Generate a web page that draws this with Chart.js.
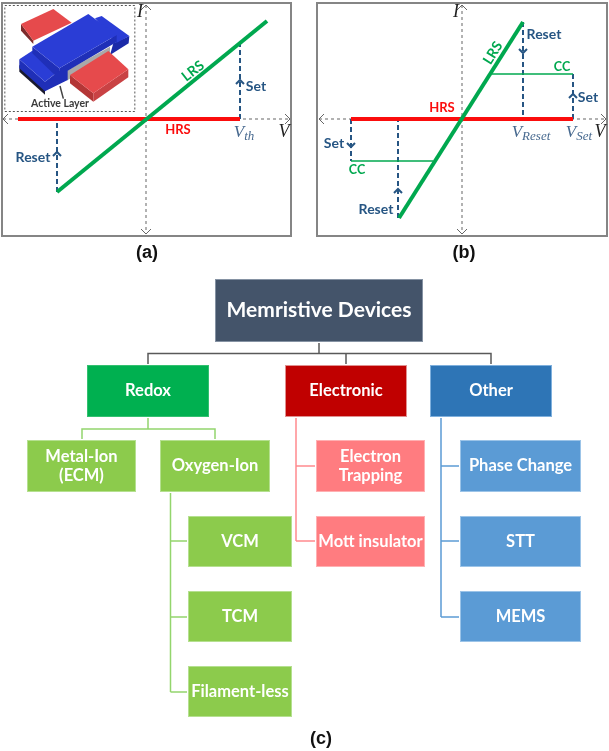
<!DOCTYPE html>
<html>
<head>
<meta charset="utf-8">
<script src="https://cdn.jsdelivr.net/npm/chart.js"></script>
<style>
    html, body { margin: 0; padding: 0; background: #ffffff; }
    #page { position: relative; width: 609px; height: 751px; overflow: hidden; }
    canvas { position: absolute; display: block; filter: blur(0.35px); }
</style>
</head>
<body>
<div id="page">
    <canvas id="panelA" width="304" height="265" style="left:0;top:0"></canvas>
    <canvas id="device" width="140" height="120" style="left:0;top:0"></canvas>
    <canvas id="panelB" width="304" height="265" style="left:305px;top:0"></canvas>
    <canvas id="tree" width="609" height="486" style="left:0;top:265px"></canvas>
</div>
<script>
// Panel (a) curves, V and I in arbitrary units
const aLrsV = [-8.9, 12.1];
const aLrsI = [-7.3, 9.8];
const aHrsV = [-12.8, 9.4];
const aHrsI = [0, 0];
const aSetV = [9.4, 9.4];
const aSetI = [0, 7.6];
const aResetV = [-8.9, -8.9];
const aResetI = [-7.3, 0];

// Panel (b) curves
const bLrsV = [-6.3, 6.1];
const bLrsI = [-9.9, 9.7];
const bHrsV = [-11.1, 11.1];
const bHrsI = [0, 0];
const bCcUpV = [3.0, 11.1];
const bCcUpI = [4.5, 4.5];
const bCcDownV = [-11.1, -2.9];
const bCcDownI = [-4.2, -4.2];
const bSetUpV = [11.1, 11.1];
const bSetUpI = [0, 4.5];
const bSetDownV = [-11.1, -11.1];
const bSetDownI = [0, -4.2];
const bResetUpV = [6.1, 6.1];
const bResetUpI = [9.7, 0];
const bResetDownV = [-6.4, -6.4];
const bResetDownI = [-9.9, 0];

// Arrow heads on the dashed transitions: V, I, direction
const aArrowV = [9.4, -8.9];
const aArrowI = [3.9, -3.3];
const aArrowDir = [1, 1];
const bArrowV = [6.1, 11.1, -11.1, -6.4];
const bArrowI = [6.6, 2.5, -2.8, -7.0];
const bArrowDir = [-1, 1, -1, 1];

// Tree nodes
const nodeNames = ['Memristive Devices', 'Redox', 'Electronic', 'Other', 'Metal-Ion\n(ECM)', 'Oxygen-Ion',
    'Electron\nTrapping', 'Mott insulator', 'Phase Change', 'STT', 'MEMS', 'VCM', 'TCM', 'Filament-less'];
const nodeLeft = [215, 87, 285, 430, 27, 160, 316, 316, 460, 460, 460, 188, 188, 188];
const nodeRight = [423, 209, 407, 552, 136, 270, 425, 425, 581, 581, 581, 292, 292, 292];
const nodeTop = [279, 365, 365, 365, 440, 440, 440, 516, 440, 516, 591, 516, 591, 666];
const nodeBottom = [342, 417, 417, 417, 492, 492, 492, 567, 492, 567, 642, 567, 642, 717];
const nodeKinds = ['root', 'redox', 'electronic', 'other', 'redoxSub', 'redoxSub', 'electronicSub', 'electronicSub',
    'otherSub', 'otherSub', 'otherSub', 'redoxSub', 'redoxSub', 'redoxSub'];

// Tree connectors, one array pair per polyline
const rootLinkX = [[319, 319], [148, 148, 491, 491], [346, 346]];
const rootLinkY = [[343, 353.5], [364, 353.5, 353.5, 364], [353.5, 364]];
const redoxLinkX = [[148, 148], [82, 82, 215, 215], [170.5, 170.5], [170.5, 187], [170.5, 187], [170.5, 187]];
const redoxLinkY = [[418, 429], [439, 429, 429, 439], [493, 692], [541, 541], [617, 617], [692, 692]];
const electronicLinkX = [[296, 296], [296, 315], [296, 315]];
const electronicLinkY = [[418, 541], [466, 466], [541, 541]];
const otherLinkX = [[441, 441], [441, 459], [441, 459], [441, 459]];
const otherLinkY = [[418, 617], [466, 466], [541, 541], [617, 617]];

const kindFill = {
    root: '#44546a', redox: '#00b050', electronic: '#c00000', other: '#2e75b6',
    redoxSub: '#8ccb4c', electronicSub: '#ff7c80', otherSub: '#5b9bd5'
};
const kindEdge = {
    root: '#8592a3', redox: '#33c070', electronic: '#e09090', other: '#7fb0dd',
    redoxSub: '#b5e090', electronicSub: '#ffb0b2', otherSub: '#9cc4e8'
};

const GREEN = '#00a84f';
const RED = '#fb0d0d';
const BLUE = '#265583';
const MATH_BLUE = '#47698f';
const LABEL = 'Lato, "Noto Sans", sans-serif';
const MATH = '"Liberation Serif", serif';

function line(xs, ys, color, width, dash) {
    return {
        data: xs.map((x, i) => ({ x: x, y: ys[i] })),
        showLine: true,
        pointRadius: 0,
        borderColor: color,
        borderWidth: width,
        borderDash: dash || [],
        borderCapStyle: 'butt'
    };
}

function chevron(ctx, x, y, dir, size, color, width) {
    ctx.save();
    ctx.strokeStyle = color;
    ctx.lineWidth = width;
    ctx.beginPath();
    ctx.moveTo(x + dir[0] * size - dir[1] * size, y + dir[1] * size + dir[0] * size);
    ctx.lineTo(x, y);
    ctx.lineTo(x + dir[0] * size + dir[1] * size, y + dir[1] * size - dir[0] * size);
    ctx.stroke();
    ctx.restore();
}

function label(chart, text, x, y, color, font, rotation) {
    const ctx = chart.ctx;
    ctx.save();
    ctx.translate(chart.scales.x.getPixelForValue(x), chart.scales.y.getPixelForValue(y));
    ctx.rotate((rotation || 0) * Math.PI / 180);
    ctx.textAlign = 'center';
    ctx.textBaseline = 'middle';
    ctx.fillStyle = color;
    ctx.font = font;
    ctx.fillText(text, 0, 0);
    ctx.restore();
}

// V with an italic subscript, centred on x
function subscripted(chart, sub, x, y) {
    const ctx = chart.ctx;
    ctx.save();
    ctx.fillStyle = MATH_BLUE;
    ctx.textBaseline = 'alphabetic';
    ctx.font = 'italic 17px ' + MATH;
    const mainWidth = ctx.measureText('V').width;
    ctx.font = 'italic 13px ' + MATH;
    const subWidth = ctx.measureText(sub).width;
    const left = chart.scales.x.getPixelForValue(x) - (mainWidth + subWidth) / 2;
    const base = chart.scales.y.getPixelForValue(y);
    ctx.font = 'italic 17px ' + MATH;
    ctx.fillText('V', left, base + 4);
    ctx.font = 'italic 13px ' + MATH;
    ctx.fillText(sub, left + mainWidth, base + 7);
    ctx.restore();
}

function baseOptions(xMin, xMax, yMin, yMax, padding, reverse) {
    return {
        responsive: false,
        animation: false,
        devicePixelRatio: 1,
        layout: { padding: padding },
        plugins: { legend: { display: false }, tooltip: { enabled: false } },
        scales: {
            x: { type: 'linear', min: xMin, max: xMax, display: false },
            y: { type: 'linear', min: yMin, max: yMax, display: false, reverse: !!reverse }
        }
    };
}

// Frame, axes ends and arrows shared by (a) and (b)
function ivPlugin(arrowV, arrowI, arrowDir, drawTexts) {
    return {
        id: 'ivPlugin',
        afterDatasetsDraw(chart) {
            const ctx = chart.ctx, sx = chart.scales.x, sy = chart.scales.y, area = chart.chartArea;
            ctx.save();
            ctx.strokeStyle = '#858585';
            ctx.lineWidth = 2;
            ctx.strokeRect(area.left, area.top, area.right - area.left, area.bottom - area.top);
            ctx.restore();
            const ox = sx.getPixelForValue(0), oy = sy.getPixelForValue(0);
            chevron(ctx, sx.getPixelForValue(-14.3), oy, [1, 0], 5, '#666666', 1);
            chevron(ctx, sx.getPixelForValue(14.4), oy, [-1, 0], 5, '#666666', 1);
            chevron(ctx, ox, sy.getPixelForValue(11.4), [0, 1], 5, '#666666', 1);
            chevron(ctx, ox, sy.getPixelForValue(-11.5), [0, -1], 5, '#666666', 1);
            arrowV.forEach((v, i) => {
                chevron(ctx, sx.getPixelForValue(v), sy.getPixelForValue(arrowI[i]), [0, arrowDir[i]], 4, BLUE, 2);
            });
            drawTexts(chart);
        }
    };
}

new Chart(document.getElementById('panelA'), {
    type: 'scatter',
    data: {
        datasets: [
            line(aLrsV, aLrsI, GREEN, 4),
            line(aHrsV, aHrsI, RED, 4),
            line(aSetV, aSetI, BLUE, 2, [5, 3]),
            line(aResetV, aResetI, BLUE, 2, [5, 3]),
            line([-14.3, 14.4], [0, 0], '#666666', 1, [3, 3]),
            line([0, 0], [11.4, -11.5], '#666666', 1, [3, 3])
        ]
    },
    options: baseOptions(-14.4, 14.5, -11.7, 11.6, { left: 2, top: 3, right: 13, bottom: 29 }),
    plugins: [ivPlugin(aArrowV, aArrowI, aArrowDir, chart => {
        const bold = 'bold 14px ' + LABEL;
        label(chart, 'LRS', 4.7, 4.8, GREEN, bold, -38);
        label(chart, 'HRS', 3.2, -1.1, RED, 'bold 13px ' + LABEL);
        label(chart, 'Set', 11.0, 3.3, BLUE, bold);
        label(chart, 'Reset', -11.3, -3.8, BLUE, bold);
        subscripted(chart, 'th', 9.8, -1.4);
        label(chart, 'V', 13.8, -1.3, '#222222', 'italic 18px ' + MATH);
        label(chart, 'I', -0.6, 10.7, '#222222', 'italic 18px ' + MATH);
        label(chart, '(a)', 0.1, -13.4, '#111111', 'bold 18px "Liberation Sans", sans-serif');
    })]
});

// Device sketch inside (a), coordinates are on a 420 x 360 grid
const devicePolys = [
    { fill: '#7d2b2b', pts: [[63, 72], [100, 122], [100, 132], [63, 92]] },
    { fill: '#e64a4c', pts: [[63, 72], [160, 27], [215, 68], [100, 122]] },
    { fill: '#1b2aa8', pts: [[340, 130], [388, 108], [386, 130], [330, 165]] },
    { fill: '#2a3dd6', pts: [[285, 55], [305, 48], [388, 108], [350, 128]] },
    { fill: '#a9a9a9', pts: [[200, 212], [330, 140], [330, 160], [200, 242]] },
    { fill: '#b43636', pts: [[210, 225], [280, 280], [280, 305], [210, 250]] },
    { fill: '#c94244', pts: [[280, 280], [385, 208], [385, 232], [280, 305]] },
    { fill: '#e64a4c', pts: [[210, 225], [325, 153], [385, 208], [280, 280]] },
    { fill: '#1a1a2e', pts: [[58, 195], [135, 262], [135, 284], [58, 215]] },
    { fill: '#1f2fb8', pts: [[58, 178], [135, 245], [135, 274], [58, 205]] },
    { fill: '#2a3dd6', pts: [[58, 178], [97, 152], [180, 210], [135, 245]] },
    { fill: '#1f2fb8', pts: [[97, 140], [178, 205], [180, 240], [97, 160]] },
    { fill: '#1f2fb8', pts: [[178, 205], [350, 105], [350, 126], [203, 212], [203, 240], [135, 274], [135, 245], [178, 212]] },
    { fill: '#2a3dd6', pts: [[97, 140], [265, 42], [350, 105], [178, 205]] }
];

new Chart(document.getElementById('device'), {
    type: 'scatter',
    data: { datasets: [line([180, 190], [258, 296], '#444444', 1.5)] },
    options: baseOptions(0, 420, 0, 360, 0, true),
    plugins: [{
        id: 'devicePlugin',
        beforeDatasetsDraw(chart) {
            const ctx = chart.ctx, sx = chart.scales.x, sy = chart.scales.y;
            ctx.save();
            ctx.strokeStyle = '#555555';
            ctx.lineWidth = 1;
            ctx.setLineDash([2, 2]);
            ctx.strokeRect(sx.getPixelForValue(13) + 0.5, sy.getPixelForValue(15) + 0.5,
                sx.getPixelForValue(403) - sx.getPixelForValue(13), sy.getPixelForValue(333) - sy.getPixelForValue(15));
            ctx.restore();
            devicePolys.forEach(poly => {
                ctx.beginPath();
                poly.pts.forEach((p, i) => {
                    const px = sx.getPixelForValue(p[0]), py = sy.getPixelForValue(p[1]);
                    if (i === 0) ctx.moveTo(px, py); else ctx.lineTo(px, py);
                });
                ctx.closePath();
                ctx.fillStyle = poly.fill;
                ctx.fill();
            });
        },
        afterDatasetsDraw(chart) {
            label(chart, 'Active Layer', 180, 312, '#3a3a3a', 'bold 10.5px ' + LABEL);
        }
    }]
});

new Chart(document.getElementById('panelB'), {
    type: 'scatter',
    data: {
        datasets: [
            line(bLrsV, bLrsI, GREEN, 4),
            line(bHrsV, bHrsI, RED, 4),
            line(bCcUpV, bCcUpI, GREEN, 1.5),
            line(bCcDownV, bCcDownI, GREEN, 1.5),
            line(bSetUpV, bSetUpI, BLUE, 2, [5, 3]),
            line(bSetDownV, bSetDownI, BLUE, 2, [5, 3]),
            line(bResetUpV, bResetUpI, BLUE, 2, [5, 3]),
            line(bResetDownV, bResetDownI, BLUE, 2, [5, 3]),
            line([-14.3, 14.4], [0, 0], '#666666', 1, [3, 3]),
            line([0, 0], [11.4, -11.5], '#666666', 1, [3, 3])
        ]
    },
    options: baseOptions(-14.5, 14.5, -11.7, 11.6, { left: 12, top: 3, right: 2, bottom: 29 }),
    plugins: [ivPlugin(bArrowV, bArrowI, bArrowDir, chart => {
        const bold = 'bold 14px ' + LABEL;
        const small = 'bold 12.5px ' + LABEL;
        label(chart, 'HRS', -2.0, 1.1, RED, 'bold 13px ' + LABEL);
        label(chart, 'LRS', 3.1, 6.6, GREEN, bold, -58);
        label(chart, 'Reset', 8.2, 8.5, BLUE, bold);
        label(chart, 'CC', 10.0, 5.2, GREEN, small);
        label(chart, 'Set', 12.6, 2.2, BLUE, bold);
        label(chart, 'Set', -12.8, -2.4, BLUE, bold);
        label(chart, 'CC', -10.5, -5.1, GREEN, small);
        label(chart, 'Reset', -8.6, -9.0, BLUE, bold);
        subscripted(chart, 'Reset', 6.9, -1.4);
        subscripted(chart, 'Set', 11.7, -1.4);
        label(chart, 'V', 13.8, -1.3, '#222222', 'italic 18px ' + MATH);
        label(chart, 'I', -0.6, 10.7, '#222222', 'italic 18px ' + MATH);
        label(chart, '(b)', 0.2, -13.4, '#111111', 'bold 18px "Liberation Sans", sans-serif');
    })]
});

function links(xs, ys, color, width) {
    return xs.map((x, i) => line(x, ys[i], color, width));
}

new Chart(document.getElementById('tree'), {
    type: 'scatter',
    data: {
        datasets: [
            ...links(rootLinkX, rootLinkY, '#595959', 1.5),
            ...links(redoxLinkX, redoxLinkY, '#93d56d', 1.5),
            ...links(electronicLinkX, electronicLinkY, '#ff8a8e', 1.5),
            ...links(otherLinkX, otherLinkY, '#5b9bd5', 1.5)
        ]
    },
    options: baseOptions(0, 609, 265, 751, 0, true),
    plugins: [{
        id: 'treeNodes',
        afterDatasetsDraw(chart) {
            const ctx = chart.ctx, sx = chart.scales.x, sy = chart.scales.y;
            nodeNames.forEach((name, i) => {
                const left = sx.getPixelForValue(nodeLeft[i]), right = sx.getPixelForValue(nodeRight[i]);
                const top = sy.getPixelForValue(nodeTop[i]), bottom = sy.getPixelForValue(nodeBottom[i]);
                ctx.fillStyle = kindFill[nodeKinds[i]];
                ctx.fillRect(left, top, right - left, bottom - top);
                ctx.strokeStyle = kindEdge[nodeKinds[i]];
                ctx.lineWidth = 1;
                ctx.strokeRect(left + 0.5, top + 0.5, right - left - 1, bottom - top - 1);

                const rows = name.split('\n');
                const cx = (nodeLeft[i] + nodeRight[i]) / 2, cy = (nodeTop[i] + nodeBottom[i]) / 2;
                const font = i === 0 ? 'bold 21px ' + LABEL : 'bold 16.5px ' + LABEL;
                rows.forEach((row, r) => {
                    label(chart, row, cx, cy + (r - (rows.length - 1) / 2) * 19.5, '#ffffff', font);
                });
            });
            label(chart, '(c)', 321, 739, '#111111', 'bold 18px "Liberation Sans", sans-serif');
        }
    }]
});
</script>
</body>
</html>
